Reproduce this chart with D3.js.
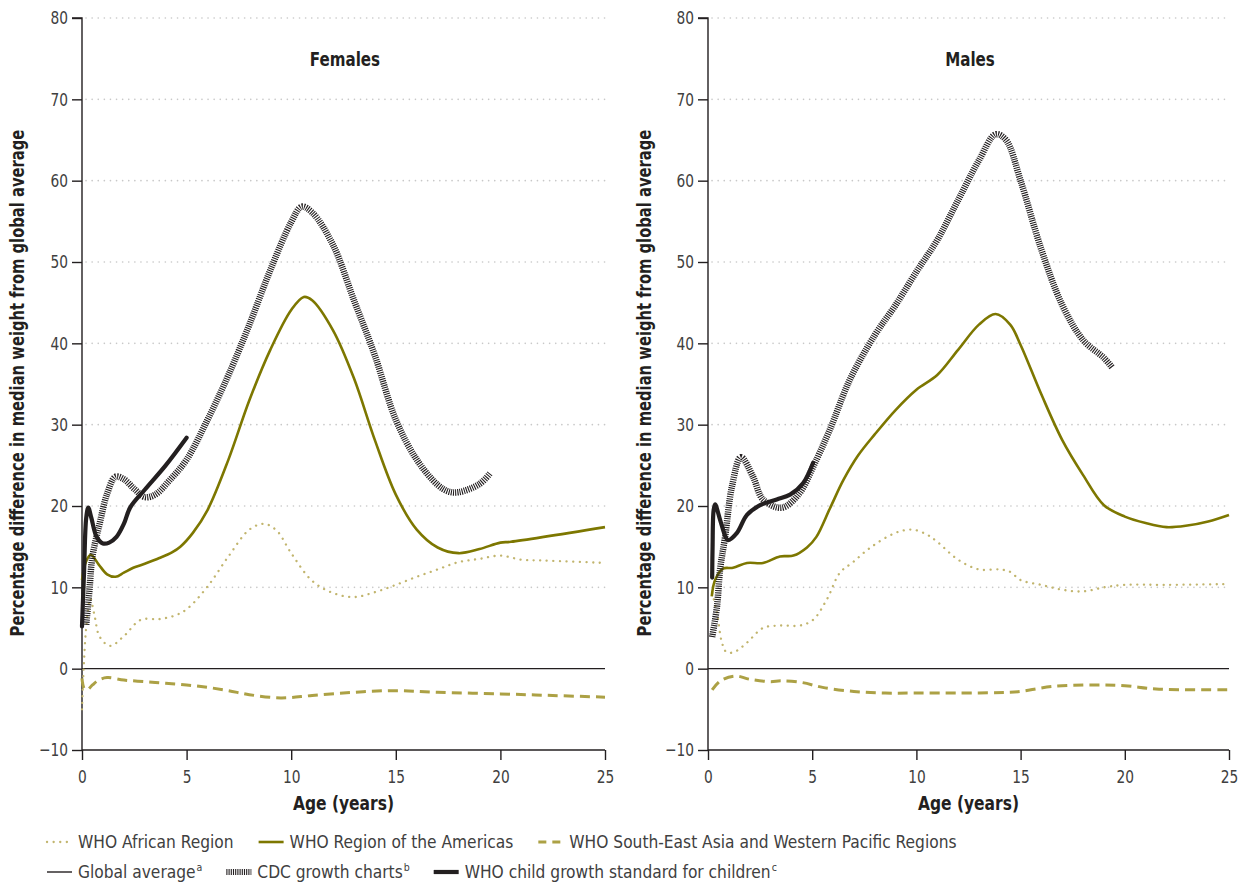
<!DOCTYPE html>
<html><head><meta charset="utf-8">
<script src="https://cdn.jsdelivr.net/npm/d3@7"></script>
<style>
body{margin:0;background:#fff}
svg{display:block}
text{font-family:"DejaVu Sans Condensed","Liberation Sans Narrow",sans-serif}
</style>
</head><body>
<svg id="c" width="1242" height="882"></svg>
<script>
// ---------- data ----------
const yTicks = [-10, 0, 10, 20, 30, 40, 50, 60, 70, 80];
const xTicks = [0, 5, 10, 15, 20, 25];
const panelTitles = ["Females", "Males"];
const yAxisTitle = "Percentage difference in median weight from global average";
const xAxisTitle = "Age (years)";

// Females
const femaleAfrican = [[0,-5],[0.08,0],[0.2,5],[0.4,8.6],[0.6,6.5],[0.85,3.9],[1.35,2.8],[2,4],[2.8,6.0],[3.7,6.1],[4.4,6.5],[5,7.3],[6,10.1],[7,13.8],[8,17.1],[8.7,17.8],[9.3,17.0],[10,14.2],[11,10.8],[12,9.3],[13,8.8],[14,9.4],[15,10.3],[16,11.3],[17,12.2],[18,13.1],[19,13.5],[20,13.9],[21,13.4],[22,13.3],[25,13.0]];
const femaleAmericas = [[0,10.9],[0.2,13.2],[0.42,14.0],[0.8,12.8],[1.2,11.6],[1.6,11.3],[2,11.8],[2.45,12.4],[3,12.9],[3.7,13.6],[4.3,14.3],[4.7,15.0],[5.3,16.7],[6,19.5],[7,25.7],[8,33],[9,39.2],[10,44.1],[10.6,45.7],[11,45.3],[12,41.6],[13,35.7],[14,28.1],[15,21.4],[16,17.1],[17,14.9],[18,14.2],[19,14.7],[20,15.5],[20.5,15.6],[25,17.4]];
const femaleSEAsia = [[0,-1.2],[0.1,-2.4],[0.25,-2.6],[0.5,-2.0],[0.8,-1.4],[1.2,-1.1],[2,-1.4],[3,-1.6],[4,-1.8],[5,-2.0],[6,-2.3],[7,-2.7],[8,-3.2],[9.5,-3.6],[11,-3.3],[13,-2.9],[15,-2.7],[17,-2.9],[20,-3.1],[22.5,-3.3],[25,-3.5]];
const femaleCDC = [[0.2,5.4],[0.35,9.5],[0.5,13.8],[0.85,17.9],[1.2,21.5],[1.6,23.6],[2.0,23.3],[2.5,22.1],[3.0,21.1],[3.5,21.4],[4.2,23.2],[5,25.7],[6,30.6],[7,36.1],[8,42.3],[9,49],[10,54.9],[10.5,56.8],[11,56.1],[12,52.1],[13,45.3],[14,38.5],[15,30.6],[16,25.7],[17,22.6],[17.5,21.8],[18,21.7],[19,22.7],[19.5,24.0]];
const femaleWHOStd = [[0,5.2],[0.1,12],[0.2,18.5],[0.3,19.8],[0.45,18.5],[0.7,16.2],[1.0,15.4],[1.3,15.5],[1.65,16.2],[2.0,17.8],[2.3,19.8],[3.0,22.0],[4.0,25.0],[5,28.4]];

// Males
const maleAfrican = [[0.2,9.3],[0.43,6.9],[0.67,3.2],[0.9,2.0],[1.3,2.1],[1.87,3.2],[2.64,5.0],[3.45,5.3],[4.4,5.3],[5.04,6.0],[5.7,8.5],[6.33,11.8],[6.96,13.1],[7.8,14.9],[9,16.7],[9.8,17.1],[10.5,16.5],[11,15.6],[12,13.4],[13,12.2],[14,12.2],[14.5,11.9],[15,10.9],[16,10.3],[17,9.7],[18,9.5],[19,10],[20,10.3],[22,10.3],[25,10.4]];
const maleAmericas = [[0.18,8.9],[0.34,10.9],[0.72,12.3],[1.2,12.4],[1.87,13.0],[2.64,13.0],[3.45,13.8],[4.1,13.9],[4.75,14.9],[5.2,16.2],[5.85,19.7],[6.5,23.2],[7.2,26.2],[8,28.8],[9,31.8],[10,34.3],[11,36.1],[12,39.2],[13,42.3],[13.8,43.6],[14.5,42.3],[15,39.8],[16,33.7],[17,28.1],[18,23.8],[19,20.1],[20,18.7],[21,17.9],[22,17.4],[23,17.6],[24,18.1],[25,18.9]];
const maleSEAsia = [[0.2,-2.6],[0.6,-1.5],[1.3,-0.9],[2,-1.3],[3,-1.6],[3.5,-1.5],[4.5,-1.7],[5.5,-2.3],[7,-2.8],[8.5,-3.0],[10,-3.0],[12,-3.0],[14.5,-2.9],[15,-2.8],[16.5,-2.2],[18.5,-2.0],[20,-2.1],[21.5,-2.5],[25,-2.6]];
const maleCDC = [[0.2,3.9],[0.43,7.6],[0.58,12.2],[0.82,16.2],[1.15,22.4],[1.58,26.0],[2.16,23.6],[2.64,20.8],[3.55,19.8],[4.4,21.6],[5.04,24.8],[5.85,29.4],[6.8,35.5],[8,41],[9,44.7],[10,48.8],[11,52.7],[12,57.6],[13,62.5],[13.8,65.7],[14.3,65],[15,60],[16,51.5],[17,44.7],[18,40.4],[19,38.2],[19.4,37]];
const maleWHOStd = [[0.2,11.2],[0.22,15],[0.27,19.5],[0.34,20.2],[0.58,18.3],[0.86,16.1],[0.96,15.8],[1.39,16.7],[1.87,18.9],[2.5,20.1],[3.3,20.8],[3.94,21.4],[4.56,22.8],[5.04,25.3]];

const globalAverage = [[0,0],[25,0]];

const legendRow1 = ["WHO African Region","WHO Region of the Americas","WHO South-East Asia and Western Pacific Regions"];
const legendRow2 = ["Global average","CDC growth charts","WHO child growth standard for children"];
const legendSup2 = ["a","b","c"];

// ---------- styles ----------
const INK = "#231f20";
const TXT = "#404040";
const styles = {
  african:  {stroke:"#c2b56e", width:2.3, dash:"0.1,6.5", cap:"round"},
  americas: {stroke:"#7d7700", width:2.6, dash:null, cap:"butt"},
  seasia:   {stroke:"#aca145", width:3, dash:"10,6", cap:"butt"},
  global:   {stroke:INK, width:1.4, dash:null, cap:"butt"},
  cdc:      {stroke:INK, width:6.5, dash:"1.1,1.1", cap:"butt"},
  whostd:   {stroke:INK, width:4.2, dash:null, cap:"round"}
};

const panels = [
  {title:panelTitles[0], x0:82, x1:605, titleX:345, ytX:18,
   series:[["african",femaleAfrican],["seasia",femaleSEAsia],["americas",femaleAmericas],["cdc",femaleCDC],["whostd",femaleWHOStd]]},
  {title:panelTitles[1], x0:708, x1:1229, titleX:970, ytX:645,
   series:[["african",maleAfrican],["seasia",maleSEAsia],["americas",maleAmericas],["cdc",maleCDC],["whostd",maleWHOStd]]}
];

const svg = d3.select("#c");
const yTop = 18, yBot = 750;

function condense(sel, f) {
  const n = sel.node();
  const L = n.getComputedTextLength();
  sel.attr("textLength", L * f).attr("lengthAdjust", "spacingAndGlyphs");
  return L * f;
}

panels.forEach(p => {
  const x = d3.scaleLinear().domain([0,25]).range([p.x0, p.x1]);
  const y = d3.scaleLinear().domain([-10,80]).range([yBot, yTop]);
  const g = svg.append("g");

  // gridlines (dotted)
  g.selectAll("line.grid").data(yTicks.filter(t => t > 0)).join("line")
    .attr("x1", p.x0 + 4).attr("x2", p.x1)
    .attr("y1", d => y(d)).attr("y2", d => y(d))
    .attr("stroke", "#c8c8c8").attr("stroke-width", 1.6)
    .attr("stroke-dasharray", "0.1,6").attr("stroke-linecap","round");

  // y axis
  const yAxis = d3.axisLeft(y).tickValues(yTicks).tickSize(10).tickPadding(4).tickFormat(d3.format("d"));
  const ya = g.append("g").attr("transform", `translate(${p.x0},0)`).call(yAxis);
  ya.select(".domain").attr("stroke", INK).attr("stroke-width", 1.4).attr("d", `M-10,${y(80)}H0V${y(-10)}`);
  ya.selectAll(".tick line").attr("stroke", INK).attr("stroke-width", 1.4);
  ya.selectAll(".tick text").attr("fill", TXT).style("font-size", "18px")
    .style("font-family", "'DejaVu Sans Condensed',sans-serif");
  ya.selectAll(".tick text").each(function(){ condense(d3.select(this), 0.85); });

  // x axis
  const xAxis = d3.axisBottom(x).tickValues(xTicks).tickSize(10).tickPadding(10).tickFormat(d3.format("d"));
  const xa = g.append("g").attr("transform", `translate(0,${yBot})`).call(xAxis);
  xa.select(".domain").attr("stroke", INK).attr("stroke-width", 1.4).attr("d", `M${p.x0},0H${p.x1}`);
  xa.selectAll(".tick line").attr("stroke", INK).attr("stroke-width", 1.4);
  xa.selectAll(".tick text").attr("fill", TXT).style("font-size", "18px")
    .style("font-family", "'DejaVu Sans Condensed',sans-serif");
  xa.selectAll(".tick text").each(function(){ condense(d3.select(this), 0.85); });

  // global average (zero line)
  const line = d3.line().x(d => x(d[0])).y(d => y(d[1]));
  g.append("path").datum(globalAverage).attr("d", line)
    .attr("fill","none").attr("stroke", styles.global.stroke).attr("stroke-width", styles.global.width);

  // series
  const curveLine = d3.line().x(d => x(d[0])).y(d => y(d[1])).curve(d3.curveCatmullRom.alpha(0.5));
  p.series.forEach(([key, data]) => {
    const s = styles[key];
    const path = g.append("path").datum(data).attr("d", curveLine)
      .attr("fill","none").attr("stroke", s.stroke).attr("stroke-width", s.width)
      .attr("stroke-linecap", s.cap).attr("stroke-linejoin","round");
    if (s.dash) path.attr("stroke-dasharray", s.dash);
  });

  // titles
  const t1 = g.append("text").attr("x", p.titleX).attr("y", 66).attr("text-anchor","middle")
    .attr("font-weight","bold").attr("font-size", 20).attr("fill", INK).text(p.title);
  condense(t1, 0.84);
  const t2 = g.append("text").attr("x", (p.x0 + p.x1)/2).attr("y", 810).attr("text-anchor","middle")
    .attr("font-weight","bold").attr("font-size", 20).attr("fill", INK).text(xAxisTitle);
  condense(t2, 0.86);
  const t3 = g.append("text").attr("transform", `translate(${p.ytX + 6},383) rotate(-90)`).attr("text-anchor","middle")
    .attr("font-weight","bold").attr("font-size", 20).attr("fill", INK).text(yAxisTitle);
  condense(t3, 0.82);
});

// ---------- legend ----------
function legendItem(g, xStart, yMid, key, label, sup) {
  const s = styles[key];
  const len = 25;
  const ln = g.append("line").attr("x1", xStart).attr("x2", xStart + len).attr("y1", yMid).attr("y2", yMid)
    .attr("stroke", s.stroke).attr("stroke-width", key === "cdc" ? 6 : s.width)
    .attr("stroke-linecap", key === "african" ? "round" : "butt");
  if (key === "african") ln.attr("stroke-dasharray", "0.1,6.5");
  else if (key === "seasia") ln.attr("stroke-dasharray", "8,6");
  else if (key === "cdc") ln.attr("stroke-dasharray", "1.1,1.1");
  const t = g.append("text").attr("x", xStart + len + 6).attr("y", yMid + 6)
    .attr("font-size", 17.2).attr("fill", TXT).text(label);
  if (sup) t.append("tspan").attr("dy", -7).attr("dx", 1).attr("font-size", 10.5).text(sup);
  const L = t.node().getComputedTextLength();
  return xStart + len + 6 + L;
}
const lg = svg.append("g");
const keys1 = ["african","americas","seasia"];
const keys2 = ["global","cdc","whostd"];
let xp = 47;
legendRow1.forEach((lab, i) => { xp = legendItem(lg, xp, 842, keys1[i], lab, null) + 25; });
xp = 47;
legendRow2.forEach((lab, i) => { xp = legendItem(lg, xp, 872, keys2[i], lab, legendSup2[i]) + 25; });
</script>
</body></html>
